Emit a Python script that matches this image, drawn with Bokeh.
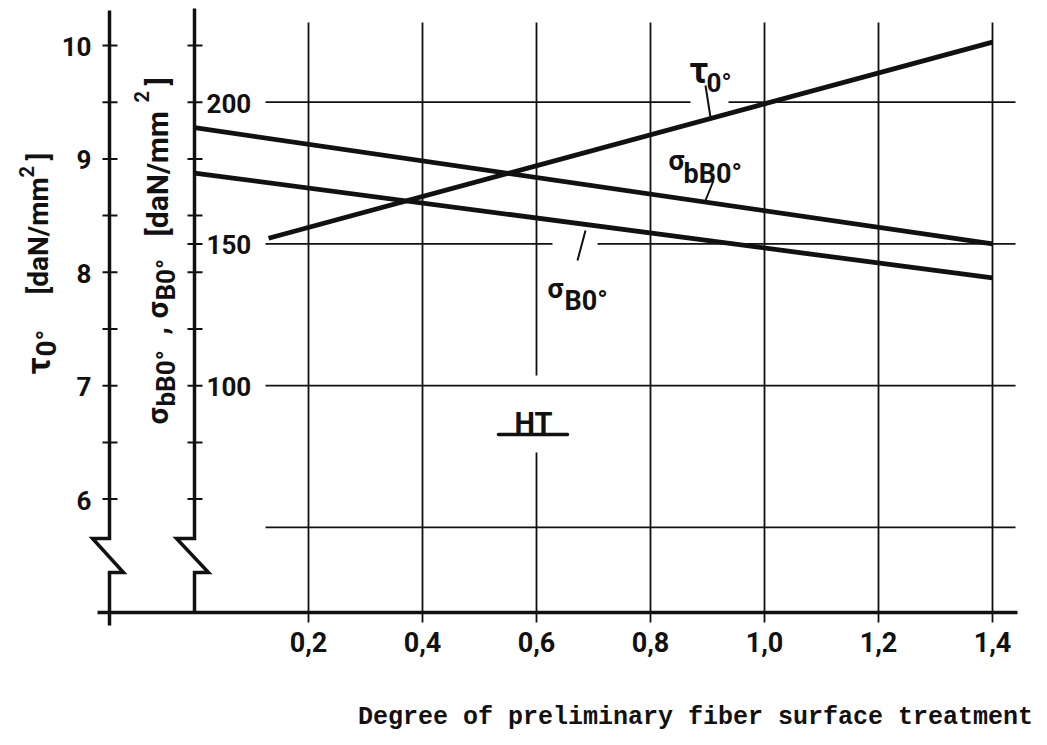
import numpy as np
from bokeh.plotting import figure
from bokeh.models import Range1d, ColumnDataSource
from bokeh.embed import file_html
from bokeh.resources import INLINE
from bokeh.core.properties import value

# ---------------- data ----------------
x_ticks = [0.2, 0.4, 0.6, 0.8, 1.0, 1.2, 1.4]
x_tick_labels = ["0,2", "0,4", "0,6", "0,8", "1,0", "1,2", "1,4"]

tau_ticks = [6, 7, 8, 9, 10]
tau_tick_labels = ["6", "7", "8", "9", "10"]
tau_minor = [6.5, 7.5, 8.5, 9.5]

sigma_ticks = [100, 150, 200]
sigma_tick_labels = ["100", "150", "200"]
sigma_minor = [60, 80, 120, 140, 160, 180, 220]
sigma_grid = [50, 100, 150, 200]

tau_x = [0.13, 1.40]
tau_0 = [8.30, 10.03]            # tau 0deg  [daN/mm2]   (left axis)
sig_x = [0.0, 1.40]
sigma_bB0 = [191.0, 150.0]       # sigma bB0deg [daN/mm2] (second axis)
sigma_B0 = [175.0, 138.0]        # sigma B0deg  [daN/mm2] (second axis)

x_title = "Degree of preliminary fiber surface treatment"

# ---------------- layout ----------------
W, H = 1046, 744           # canvas size in px
M = 0                      # offset of the canvas in the page
X0, SX = 194.0, 570.0      # px of x=0, px per x unit
Y10, SY = 45.0, 113.4      # px of tau=10, px per tau unit
TAU_BASE = 5.0


def fx(X):
    return (X - X0) / SX


def fy(Y):
    return 10.0 - (Y - Y10) / SY


def to_sigma(t):
    return 100.0 + 40.0 * (t - 7.0)


tau_top = fy(M)
tau_bot = fy(M + H)

p = figure(width=W, height=H,
           x_range=Range1d(fx(M), fx(M + W)),
           y_range=Range1d(tau_bot, tau_top),
           x_axis_type=None, y_axis_type=None,
           toolbar_location=None, output_backend="svg",
           min_border=0, title=None)
p.outline_line_color = None
p.background_fill_color = "white"
p.border_fill_color = "white"
p.extra_y_ranges = {"sigma": Range1d(to_sigma(tau_bot), to_sigma(tau_top))}

INK = "#111111"
GRID_W = 1.8

# ---- vertical grid lines ----
vx0, vy0, vx1, vy1 = [], [], [], []
for xv in x_ticks:
    if abs(xv - 0.6) < 1e-9:
        pieces = [(22, 375), (452, 622)]
    else:
        pieces = [(22, 622)]
    for a, b in pieces:
        vx0.append(xv); vx1.append(xv)
        vy0.append(fy(a)); vy1.append(fy(b))
p.segment(vx0, vy0, vx1, vy1, line_color=INK, line_width=GRID_W)

# ---- horizontal grid lines (sigma scale) ----
hx0, hx1, hy = [], [], []
gaps = {150: (552, 597), 200: (690, 728)}
for s in sigma_grid:
    if s in gaps:
        g0, g1 = gaps[s]
        segs = [(265, g0), (g1, 1015)]
    else:
        segs = [(265, 1015)]
    for a, b in segs:
        hx0.append(fx(a)); hx1.append(fx(b)); hy.append(s)
p.segment(hx0, hy, hx1, hy, line_color=INK, line_width=GRID_W,
          y_range_name="sigma")

# ---- baseline (x axis) ----
p.segment([fx(97)], [TAU_BASE], [fx(1017)], [TAU_BASE],
          line_color=INK, line_width=3.5)

# ---- the two vertical axes with break marks ----
xa = fx(109)
brk_hi, brk_lo = fy(538), fy(572)
tau_ax_x = [xa, xa, xa - 17 / SX, xa + 14 / SX, xa, xa]
tau_ax_y = [fy(10), brk_hi, brk_hi, brk_lo, brk_lo, fy(625)]
p.line(tau_ax_x, tau_ax_y, line_color=INK, line_width=3.5, line_join="miter")

sig_ax_x = [0.0, 0.0, -18 / SX, 14 / SX, 0.0, 0.0]
sig_ax_y = [fy(8), brk_hi, brk_hi, brk_lo, brk_lo, TAU_BASE]
p.line(sig_ax_x, sig_ax_y, line_color=INK, line_width=3.5, line_join="miter")

# ticks on tau axis
tt = tau_ticks + tau_minor
p.segment([xa - 7 / SX] * len(tt), tt, [xa + 8 / SX] * len(tt), tt,
          line_color=INK, line_width=2)
# ticks on sigma axis
st = sigma_ticks + sigma_minor
p.segment([-7 / SX] * len(st), st, [8 / SX] * len(st), st,
          line_color=INK, line_width=2, y_range_name="sigma")

# ---- data lines ----
p.line(tau_x, tau_0, line_color=INK, line_width=4.8)
p.line(sig_x, sigma_bB0, line_color=INK, line_width=4.8, y_range_name="sigma")
p.line(sig_x, sigma_B0, line_color=INK, line_width=4.8, y_range_name="sigma")

FONT = value("Roboto")

# ---- tick labels ----
p.text(x=[fx(91)] * len(tau_ticks), y=tau_ticks, text=tau_tick_labels,
       text_align="right", text_baseline="middle", text_font=FONT,
       text_font_style="bold", text_font_size="26px", text_color=INK,
       y_offset=1)
p.text(x=[fx(206)] * len(sigma_ticks), y=sigma_ticks, text=sigma_tick_labels,
       text_align="left", text_baseline="middle", text_font=FONT,
       text_font_style="bold", text_font_size="26px", text_color=INK,
       y_offset=1, y_range_name="sigma")
p.text(x=x_ticks, y=[fy(641)] * len(x_ticks), text=x_tick_labels,
       text_align="center", text_baseline="middle", text_font=FONT,
       text_font_style="bold", text_font_size="27px", text_color=INK)

# ---- x axis title ----
p.text(x=[fx(695)], y=[fy(717)], text=[x_title], text_align="center",
       text_baseline="alphabetic", text_font=value("Liberation Mono"),
       text_font_style="bold", text_font_size="25px", text_color=INK)

# ---- rotated axis titles (pieces for sub/superscripts) ----
rot = ColumnDataSource(dict(
    x=[fx(38), fx(46), fx(38), fx(26), fx(38),
       fx(157), fx(165), fx(157), fx(157), fx(165), fx(157), fx(141), fx(157)],
    y=[fy(374), fy(356), fy(294), fy(177), fy(160),
       fy(424), fy(406), fy(334), fy(318), fy(300), fy(236), fy(102), fy(85)],
    text=["τ", "0°", "[daN/mm", "2", "]",
          "σ", "bB0°", ",", "σ", "B0°", "[daN/mm", "2", "]"],
    size=["33px", "28px", "28px", "20px", "28px",
          "30px", "26px", "30px", "30px", "26px", "30px", "20px", "30px"],
))
p.text(x="x", y="y", text="text", text_font_size="size", source=rot,
       angle=np.pi / 2, text_align="left", text_baseline="alphabetic",
       text_font=FONT, text_font_style="bold", text_color=INK)

# ---- curve labels ----
lab = ColumnDataSource(dict(
    x=[fx(689), fx(706), fx(668), fx(683), fx(547), fx(564)],
    y=[fy(70), fy(82), fy(160), fy(173), fy(288), fy(300)],
    text=["τ", "0°", "σ", "bB0°", "σ", "B0°"],
    size=["36px", "26px", "28px", "27px", "28px", "27px"],
))
p.text(x="x", y="y", text="text", text_font_size="size", source=lab,
       text_align="left", text_baseline="alphabetic", text_font=FONT,
       text_font_style="bold", text_color=INK)

# leader strokes
p.segment([fx(705), fx(713), fx(585)], [fy(85), fy(180), fy(230)],
          [fx(710), fx(705), fx(577)], [fy(117), fy(200), fy(260)],
          line_color=INK, line_width=2)

# ---- HT mark ----
p.text(x=[fx(533)], y=[fy(422)], text=["HT"], text_align="center",
       text_baseline="alphabetic", text_font=FONT, text_font_size="29px",
       text_font_style="bold", text_color=INK)
p.segment([fx(498)], [fy(434)], [fx(567)], [fy(434)], line_color=INK,
          line_width=3.5, line_cap="round")

open("out.html", "w").write(file_html(p, INLINE))
